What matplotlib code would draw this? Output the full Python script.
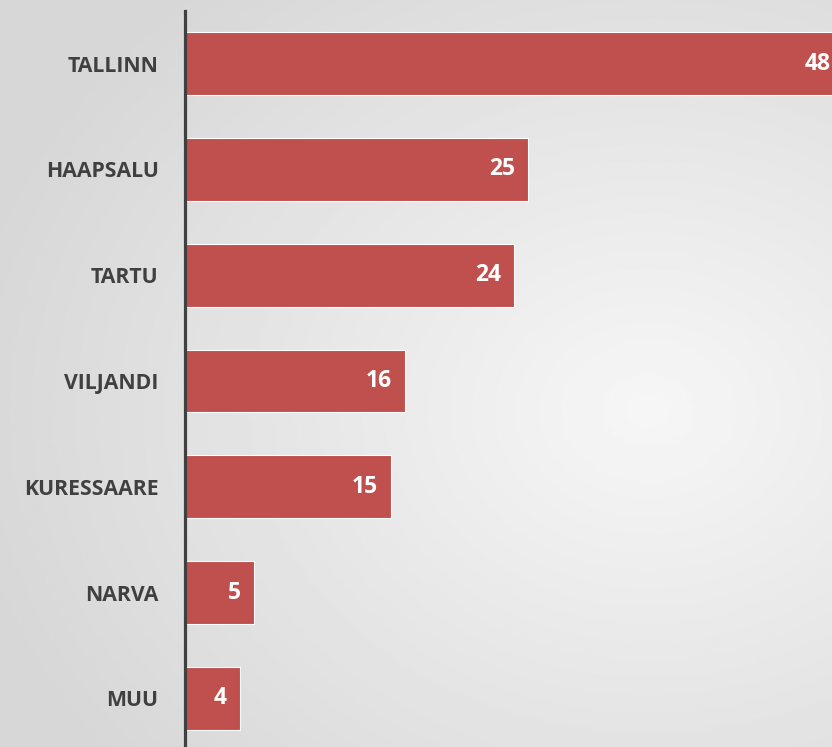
import numpy as np
import matplotlib.pyplot as plt

# Andmed
cities = ["TALLINN", "HAAPSALU", "TARTU", "VILJANDI", "KURESSAARE", "NARVA", "MUU"]
values = [48, 25, 24, 16, 15, 5, 4]

bar_color = "#C0504D"
text_color = "#404040"

plt.rcParams['font.family'] = ['Open Sans', 'DejaVu Sans']

fig = plt.figure(figsize=(8.32, 7.47), dpi=100)

# Taust: sujuv radiaalne gradient
bg = fig.add_axes([0, 0, 1, 1])
yy, xx = np.mgrid[0:1:300j, 0:1:300j]
r = np.sqrt((xx - 0.78) ** 2 + ((yy - 0.45) / 0.9) ** 2)
shade = 0.965 - 0.125 * np.clip(r / 0.85, 0, 1)
bg.imshow(shade, cmap="gray", vmin=0, vmax=1, extent=[0, 1, 0, 1],
          aspect="auto", origin="lower")
bg.axis("off")

ax = fig.add_axes([185 / 832, -4.4 / 747, (832 - 185) / 832, (751.4 - 10.6) / 747])
ax.patch.set_alpha(0)

y = np.arange(len(cities))
ax.barh(y, values, height=0.595, color=bar_color, edgecolor="white", linewidth=0.8)

for yi, v in zip(y, values):
    ax.text(v - 0.95, yi, str(v), ha="right", va="center", color="white",
            fontsize=16.5, fontweight="bold")

ax.set_xlim(0, (832 - 185) / 13.72)
ax.set_ylim(len(cities) - 0.5, -0.5)
ax.set_yticks(y)
ax.set_yticklabels(cities, fontsize=15.3, fontweight="bold", color=text_color)
ax.tick_params(axis="y", length=0, pad=19)
ax.set_xticks([])
for s in ["top", "right", "bottom"]:
    ax.spines[s].set_visible(False)
ax.spines["left"].set_color(text_color)
ax.spines["left"].set_linewidth(2.3)

fig.savefig("out.png", dpi=100)
